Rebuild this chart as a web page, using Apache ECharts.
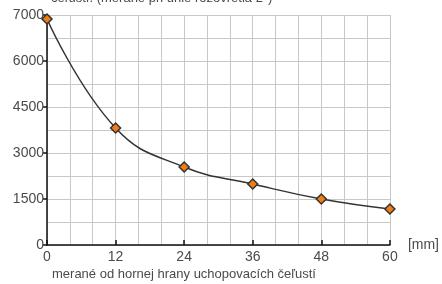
<!DOCTYPE html>
<html>
<head>
<meta charset="utf-8">
<script src="https://cdn.jsdelivr.net/npm/echarts@6/dist/echarts.min.js"></script>
<style>
  html, body { margin: 0; padding: 0; background: #fff; }
  #chart { width: 442px; height: 284px; }
</style>
</head>
<body>
<div id="chart"></div>
<script>
// distance from the top edge of the jaws [mm]
var distances = [0, 12, 24, 36, 48, 60];
// force values
var forces = [7370, 3815, 2543, 1989, 1500, 1174];
// the top tick of the original is labelled 7000 although it sits one step above 6000
var yTickLabels = { 0: '0', 1500: '1500', 3000: '3000', 4500: '4500', 6000: '6000', 7500: '7000' };

var titleText = 'čeľustí. (merané pri uhle rozovretia 2°)';
var bottomText = 'merané od hornej hrany uchopovacích čeľustí';

var dom = document.getElementById('chart');
var myChart = echarts.init(dom, null, { renderer: 'canvas' });

var font = 'Liberation Sans, Arial, sans-serif';
var gridColor = '#c8c8c8';
var textColor = '#4a4a4a';

var option = {
  animation: false,
  textStyle: { fontFamily: font },
  grid: { left: 47, right: 50, top: 15, bottom: 39 },
  graphic: [
    {
      type: 'text', left: 51, top: -8,
      style: { text: titleText, fontSize: 13, fill: textColor, fontFamily: font }
    },
    {
      type: 'text', left: 52, top: 268,
      style: { text: bottomText, fontSize: 13, fill: textColor, fontFamily: font }
    }
  ],
  xAxis: {
    type: 'value',
    min: 0, max: 60, interval: 12,
    name: '[mm]',
    nameLocation: 'end',
    nameGap: 18,
    nameTextStyle: { fontSize: 14, color: textColor, verticalAlign: 'middle' },
    axisLine: { lineStyle: { color: '#111', width: 1.5 } },
    axisTick: { inside: true, length: 5, lineStyle: { color: '#111', width: 1.5 } },
    axisLabel: { fontSize: 14, color: textColor, margin: 5 },
    splitLine: { show: true, lineStyle: { color: gridColor, width: 1 } },
    minorTick: { show: false, splitNumber: 3 },
    minorSplitLine: { show: true, lineStyle: { color: gridColor, width: 1 } }
  },
  yAxis: {
    type: 'value',
    min: 0, max: 7500, interval: 1500,
    axisLine: { show: true, lineStyle: { color: '#111', width: 1.5 } },
    axisTick: { show: true, length: 4, lineStyle: { color: '#111', width: 1.5 } },
    axisLabel: {
      fontSize: 14, color: textColor, margin: 3,
      formatter: function (v) { return yTickLabels[v] !== undefined ? yTickLabels[v] : ''; }
    },
    splitLine: { show: true, lineStyle: { color: gridColor, width: 1 } },
    minorTick: { show: false, splitNumber: 2 },
    minorSplitLine: { show: true, lineStyle: { color: gridColor, width: 1 } }
  },
  series: [
    {
      type: 'line',
      data: distances.map(function (d, i) { return [d, forces[i]]; }),
      smooth: 0.45,
      symbol: 'diamond',
      symbolSize: 10,
      lineStyle: { color: '#333', width: 1.5 },
      itemStyle: { color: '#f07f13', borderColor: '#333', borderWidth: 1.5 },
      clip: false,
      z: 5
    }
  ]
};

if (option && typeof option === 'object') {
  myChart.setOption(option);
}
</script>
</body>
</html>
